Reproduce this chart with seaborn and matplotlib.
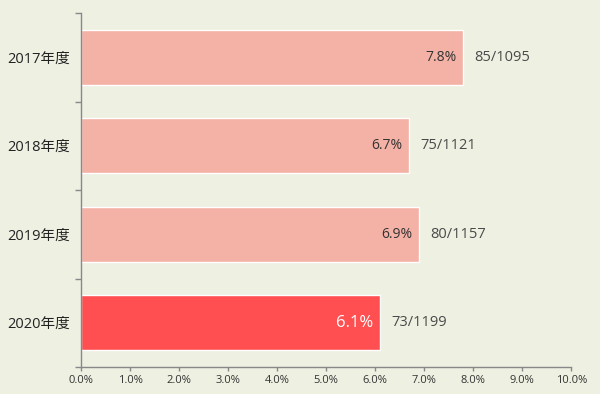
import pandas as pd
import seaborn as sns
import matplotlib.pyplot as plt
from matplotlib.ticker import FuncFormatter, FixedLocator

# data
years = ['2017年度', '2018年度', '2019年度', '2020年度']
rates = [7.8, 6.7, 6.9, 6.1]
counts = [85, 75, 80, 73]
totals = [1095, 1121, 1157, 1199]
bar_colors = ['#f4b1a6', '#f4b1a6', '#f4b1a6', '#ff4f50']

df = pd.DataFrame({'year': years, 'rate': rates})

sns.set_theme(style='white')
plt.rcParams['font.family'] = ['Open Sans', 'Noto Sans CJK JP', 'DejaVu Sans']
bg = '#eef0e2'

fig, ax = plt.subplots(figsize=(6, 3.94), dpi=100)
fig.patch.set_facecolor(bg)
ax.set_facecolor(bg)
fig.subplots_adjust(left=0.135, right=0.952, bottom=0.0685, top=0.967)

sns.barplot(data=df, x='rate', y='year', hue='year', palette=bar_colors,
            legend=False, width=0.62, saturation=1, ax=ax)

# labels on and beside the bars
for i, (r, c, t) in enumerate(zip(rates, counts, totals)):
    last = i == len(rates) - 1
    ax.annotate(f'{r}%', xy=(r, i), xytext=(-5, 0), textcoords='offset points',
                ha='right', va='center', fontsize=12 if last else 10,
                color='white' if last else '#333333')
    ax.annotate(f'{c}/{t}', xy=(r, i), xytext=(8, 0), textcoords='offset points',
                ha='left', va='center', fontsize=10.5, color='#4a4a4a')

ax.set_xlim(0, 10)
ax.set_ylim(3.5, -0.5)
ax.set_xticks([x for x in range(11)])
ax.xaxis.set_major_formatter(FuncFormatter(lambda v, p: f'{v:.1f}%'))
ax.yaxis.set_minor_locator(FixedLocator([-0.5, 0.5, 1.5, 2.5, 3.5]))
ax.set_xlabel('')
ax.set_ylabel('')

for s in ['top', 'right']:
    ax.spines[s].set_visible(False)
for s in ['left', 'bottom']:
    ax.spines[s].set_color('#888888')
    ax.spines[s].set_linewidth(1)

ax.tick_params(axis='x', length=3, width=1, color='#888888', labelsize=8,
               labelcolor='#333333', pad=3, bottom=True)
ax.tick_params(axis='y', which='major', length=0, labelsize=10.5,
               labelcolor='#222222', pad=8)
ax.tick_params(axis='y', which='minor', length=4, width=1, color='#888888', left=True)

fig.savefig('out.png', dpi=100, facecolor=bg)
